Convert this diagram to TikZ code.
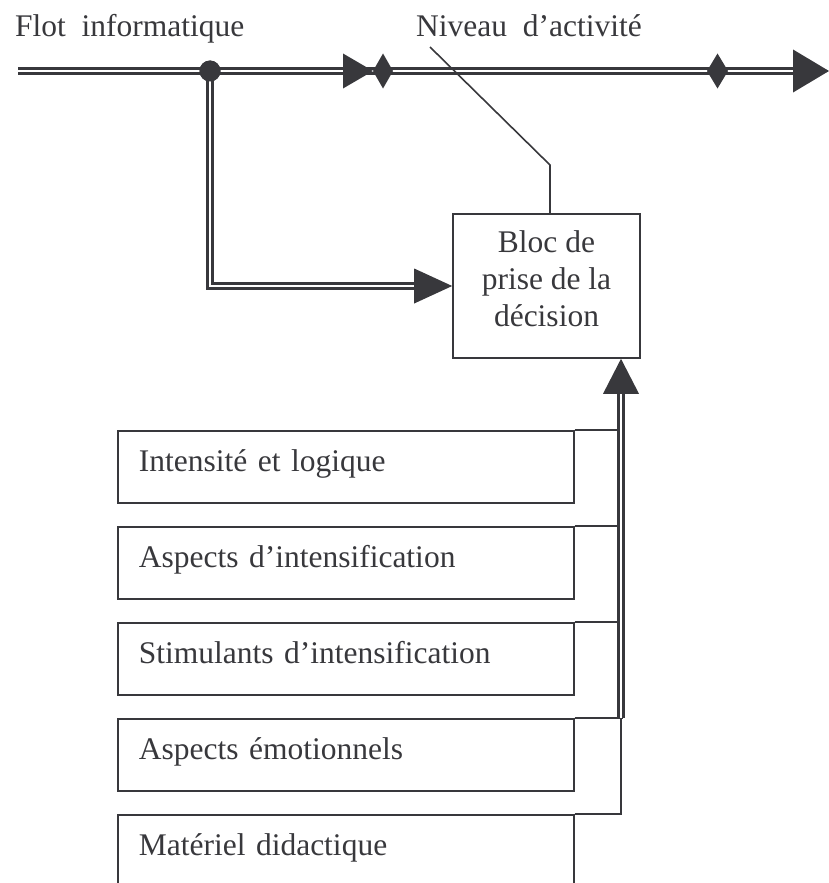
\documentclass[tikz,border=0pt]{standalone}
\usepackage{fontspec}
\setmainfont{Liberation Serif}
\usepackage{tikz}
\usetikzlibrary{positioning,calc}
\definecolor{ink}{HTML}{38383C}

\begin{document}
\begin{tikzpicture}[
  x=1pt, y=-1pt,
  font=\fontsize{31.5}{37}\selectfont,
  text=ink,
  lbl/.style={inner sep=0pt, anchor=base west},
  dbl/.style={draw=ink, line width=2.4pt, double=white, double distance=2.3pt},
  thin/.style={draw=ink, line width=1.6pt},
  dot/.style={circle, fill=ink, inner sep=0pt, minimum size=21pt},
  head/.style={fill=ink},
  blocbox/.style={thin, minimum width=187pt, minimum height=144pt, align=center,
                  inner sep=0pt, text depth=14pt},
  facteur/.style={thin, anchor=north west, minimum width=456pt, minimum height=72pt,
                  text width=414pt, inner xsep=21pt, inner ysep=0pt, align=left,
                  text height=20pt, text depth=10pt},
]
\useasboundingbox (0,0) rectangle (829,883);
% ---------- labels ----------
\node[lbl] (flot) at (15,37) {Flot\ \ informatique};
\node[lbl] (niveau) at (416,37) {Niveau\ \ d’activité};
% ---------- decision block ----------
\node[blocbox] (bloc) at (546.5,286) {Bloc de\\prise de la\\décision};
% ---------- factors ----------
\foreach \txt [count=\i] in {Intensité et logique, Aspects d’intensification,
    Stimulants d’intensification, Aspects émotionnels, Matériel didactique}
  \node[facteur] (f\i) at (117,{430+96*(\i-1)}) {\txt};
% ---------- main flow ----------
\coordinate (flotin) at (18,71);
\coordinate (tipA) at (373,71);
\coordinate (markB) at (707,71);
\coordinate (tipB) at (829,71);
\draw[dbl] (flotin) -- ($(tipB)+(-36,0)$);
\fill[head] (tipA) -- ++(-30,-17.5) -- ++(0,35) -- cycle;
\fill[head] (tipA) -- ++(10,-17.5) -- ++(10,17.5) -- ++(-10,17.5) -- cycle;
\fill[head] (markB) -- ++(10.5,-17.5) -- ++(10.5,17.5) -- ++(-10.5,17.5) -- cycle;
\fill[head] (tipB) -- ++(-36,-21.5) -- ++(0,43) -- cycle;
% ---------- branch to the block ----------
\node[dot] (split) at (210,71) {};
\draw[dbl] (split.center) -- (split |- bloc.west) -- ($(bloc.west)+(-38,0)$);
\node[dot] at (split) {};
\fill[head] (bloc.west) -- ++(-38,-17.5) -- ++(0,35) -- cycle;
% ---------- activity level ----------
\coordinate (nivtip) at (430,47);
\coordinate (kink) at (550,165);
\draw[thin] (nivtip) -- (kink) -- (kink |- bloc.north);
% ---------- factors into the block ----------
\coordinate (upbase) at (621,393);
\foreach \i in {1,...,4}
  \draw[thin] (f\i.north east) -- ($(upbase |- f\i.north)+(2,0)$);
\draw[thin] (f5.north east) -- (upbase |- f5.north) -- (upbase |- f4.north);
\draw[dbl] (upbase) -- (upbase |- f4.north);
\fill[head] (upbase |- bloc.south) -- ++(-18,35) -- ++(36,0) -- cycle;
\end{tikzpicture}
\end{document}
